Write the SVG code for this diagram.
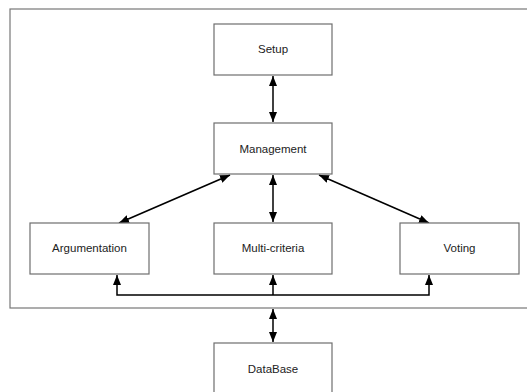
<svg xmlns="http://www.w3.org/2000/svg" width="527" height="392" viewBox="0 0 527 392">
<style>
.box{fill:#fff;stroke:#6e6e6e;stroke-width:1.2}
.lbl{font-family:"Liberation Sans",Arial,sans-serif;font-size:11.5px;fill:#222;text-anchor:middle}
.c{fill:none;stroke:#000;stroke-width:1.5}
</style>
<defs>
<marker id="ah" viewBox="0 0 10 8" refX="10" refY="4" markerWidth="10" markerHeight="8" markerUnits="userSpaceOnUse" orient="auto-start-reverse">
<path d="M0,0 L10,4 L0,8 Z" fill="#000"/>
</marker>
</defs>
<rect width="527" height="392" fill="#fff"/>
<rect id="frame" x="10" y="9" width="540" height="299" fill="none" stroke="#777" stroke-width="1.2"/>
<g id="connectors">
<line class="c" x1="273" y1="76" x2="273" y2="122" marker-start="url(#ah)" marker-end="url(#ah)"/>
<line class="c" x1="273" y1="175" x2="273" y2="222" marker-start="url(#ah)" marker-end="url(#ah)"/>
<line class="c" x1="230" y1="175" x2="119" y2="223" marker-start="url(#ah)" marker-end="url(#ah)"/>
<line class="c" x1="319" y1="175" x2="429" y2="223" marker-start="url(#ah)" marker-end="url(#ah)"/>
<polyline class="c" points="117,275 117,295 429,295 429,275" marker-start="url(#ah)" marker-end="url(#ah)"/>
<line class="c" x1="273" y1="295" x2="273" y2="275" marker-end="url(#ah)"/>
<line class="c" x1="273" y1="309" x2="273" y2="342" marker-start="url(#ah)" marker-end="url(#ah)"/>
</g>
<g id="setup"><rect class="box" x="214" y="24" width="118" height="51"/><text class="lbl" x="273" y="53">Setup</text></g>
<g id="management"><rect class="box" x="214" y="123" width="118" height="51"/><text class="lbl" x="273" y="153">Management</text></g>
<g id="argumentation"><rect class="box" x="30" y="223" width="119" height="51"/><text class="lbl" x="89.5" y="252">Argumentation</text></g>
<g id="multicriteria"><rect class="box" x="214" y="223" width="118" height="51"/><text class="lbl" x="273" y="252">Multi-criteria</text></g>
<g id="voting"><rect class="box" x="400" y="223" width="119" height="51"/><text class="lbl" x="459.5" y="252">Voting</text></g>
<g id="database"><rect class="box" x="214" y="343" width="118" height="60"/><text class="lbl" x="273" y="373">DataBase</text></g>
</svg>
